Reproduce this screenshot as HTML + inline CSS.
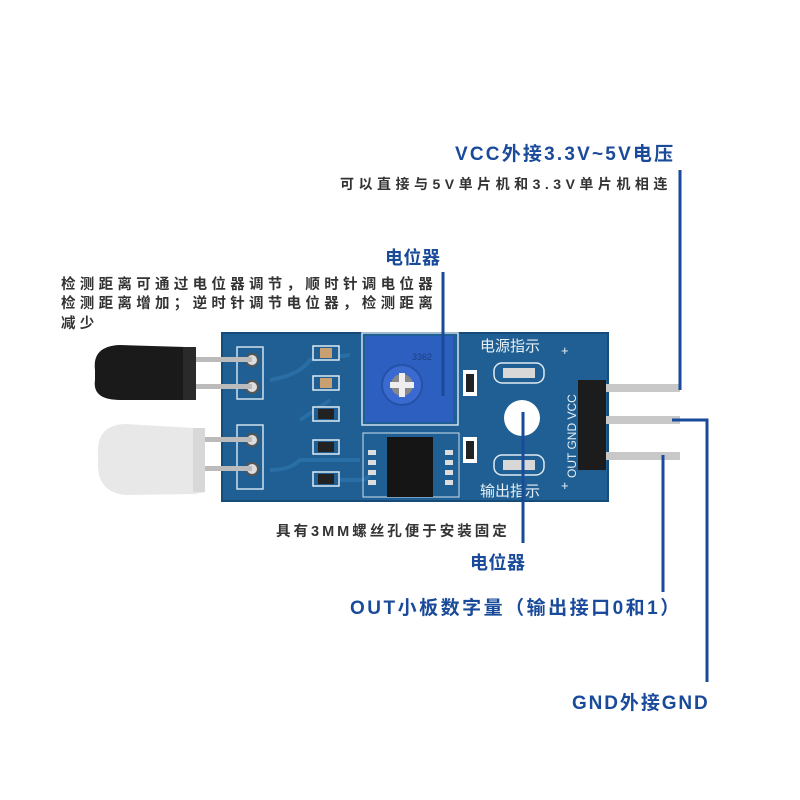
<!DOCTYPE html>
<html><head><meta charset="utf-8"><style>
html,body{margin:0;padding:0;background:#fff;}
svg{display:block}
.b{font-family:"Liberation Sans","Noto Sans CJK SC",sans-serif;font-weight:bold;fill:#1a4a9a;}
.d{font-family:"Liberation Sans","Noto Sans CJK SC",sans-serif;font-weight:bold;fill:#333;}
.s{fill:none;stroke:#1a4a9a;stroke-width:3}
</style></head><body>
<svg width="800" height="800" viewBox="0 0 800 800" xmlns="http://www.w3.org/2000/svg">
<rect x="222" y="333" width="386" height="168" fill="#1f5f93"/>
<rect x="222" y="333" width="386" height="168" fill="none" stroke="#174b78" stroke-width="2"/>
<path d="M270 380 Q300 375 310 360 L350 355 M270 470 Q290 470 300 460 L360 460 M300 420 L330 400 M340 480 L360 480 Q370 480 370 470" stroke="#2a6ea6" stroke-width="4" fill="none"/>
<rect x="237" y="347" width="26" height="52" fill="none" stroke="#cfe0ee" stroke-width="1.5"/>
<rect x="237" y="425" width="26" height="64" fill="none" stroke="#cfe0ee" stroke-width="1.5"/>
<circle cx="252" cy="360" r="6" fill="#ddd" stroke="#555" stroke-width="2"/>
<circle cx="252" cy="387" r="6" fill="#ddd" stroke="#555" stroke-width="2"/>
<circle cx="252" cy="440" r="6" fill="#ddd" stroke="#555" stroke-width="2"/>
<circle cx="252" cy="469" r="6" fill="#ddd" stroke="#555" stroke-width="2"/>
<path d="M95 370 Q92 346 120 345 L185 347 L196 349 L196 398 L185 400 L120 400 Q92 400 95 380 Z" fill="#1a1a1a"/>
<rect x="183" y="347" width="13" height="53" fill="#2a2a2a"/>
<rect x="196" y="357" width="56" height="5" fill="#bbb"/>
<rect x="196" y="384" width="56" height="5" fill="#bbb"/>
<path d="M98 455 Q96 425 125 424 L195 428 L205 430 L205 492 L195 494 L125 495 Q96 492 98 460 Z" fill="#e8e8e8"/>
<rect x="193" y="428" width="12" height="64" fill="#d8d8d8"/>
<rect x="205" y="437" width="47" height="5" fill="#bbb"/>
<rect x="205" y="466" width="47" height="5" fill="#bbb"/>
<g fill="#1f5f93" stroke="#dfeaf2" stroke-width="1.5">
<rect x="313" y="346" width="26" height="14"/><rect x="313" y="376" width="26" height="14"/>
<rect x="313" y="407" width="26" height="14"/><rect x="313" y="440" width="26" height="14"/>
<rect x="313" y="472" width="26" height="14"/>
</g>
<g fill="#c9a070"><rect x="320" y="348" width="12" height="10"/><rect x="320" y="378" width="12" height="10"/></g>
<g fill="#222"><rect x="318" y="409" width="16" height="10"/><rect x="318" y="442" width="16" height="10"/><rect x="318" y="474" width="16" height="10"/></g>
<rect x="362" y="333" width="96" height="92" fill="none" stroke="#cfe0ee" stroke-width="1.5"/>
<rect x="365" y="336" width="88" height="86" fill="#2d5fc0"/>
<circle cx="402" cy="385" r="20" fill="#3a6ad0" stroke="#2452a8" stroke-width="2"/>
<circle cx="402" cy="385" r="11" fill="#888"/>
<rect x="399" y="373" width="6" height="24" fill="#eee"/><rect x="390" y="382" width="24" height="6" fill="#eee"/>
<text x="412" y="360" font-family="Liberation Sans" font-size="9" fill="#1e3f80">3362</text>
<rect x="363" y="433" width="96" height="64" fill="none" stroke="#cfe0ee" stroke-width="1"/>
<rect x="387" y="437" width="46" height="60" fill="#151515"/>
<g fill="#ddd"><rect x="368" y="460" width="8" height="5"/><rect x="368" y="470" width="8" height="5"/><rect x="368" y="480" width="8" height="5"/><rect x="368" y="450" width="8" height="5"/>
<rect x="445" y="450" width="8" height="5"/><rect x="445" y="460" width="8" height="5"/><rect x="445" y="470" width="8" height="5"/><rect x="445" y="480" width="8" height="5"/></g>
<rect x="463" y="370" width="14" height="26" fill="#fff"/><rect x="466" y="374" width="8" height="18" fill="#222"/>
<rect x="463" y="437" width="14" height="26" fill="#fff"/><rect x="466" y="441" width="8" height="18" fill="#222"/>
<rect x="494" y="363" width="50" height="20" rx="8" fill="none" stroke="#dfeaf2" stroke-width="1.5"/>
<rect x="503" y="368" width="32" height="10" fill="#d8d8d8"/>
<rect x="494" y="455" width="50" height="20" rx="8" fill="none" stroke="#dfeaf2" stroke-width="1.5"/>
<rect x="503" y="460" width="32" height="10" fill="#d8d8d8"/>
<circle cx="522" cy="418" r="18" fill="#fff"/>
<text x="480" y="351" font-family="Liberation Sans,Noto Sans CJK SC" font-size="15" fill="#e8f0f6">电源指示</text>
<text x="480" y="496" font-family="Liberation Sans,Noto Sans CJK SC" font-size="15" fill="#e8f0f6">输出指示</text>
<text x="561" y="355" font-family="Liberation Sans" font-size="13" fill="#e8f0f6">+</text>
<text x="561" y="490" font-family="Liberation Sans" font-size="13" fill="#e8f0f6">+</text>
<text transform="translate(576,478) rotate(-90)" font-family="Liberation Sans" font-size="12" fill="#e8f0f6">OUT GND VCC</text>
<rect x="578" y="380" width="28" height="90" fill="#1c1c1c"/>
<rect x="606" y="384" width="74" height="8" fill="#c8c8c8"/>
<rect x="606" y="416" width="74" height="8" fill="#c8c8c8"/>
<rect x="606" y="452" width="74" height="8" fill="#c8c8c8"/>
<path class="s" d="M680 170 L680 390"/>
<path class="s" d="M672 420 L707 420 L707 682"/>
<path class="s" d="M663 455 L663 592"/>
<path class="s" d="M443 272 L443 396"/>
<path class="s" d="M523 412 L523 543"/>
<text class="b" x="455" y="160" font-size="19" letter-spacing="2.2">VCC外接3.3V~5V电压</text>
<text class="d" x="340" y="189" font-size="14" letter-spacing="4.5">可以直接与5V单片机和3.3V单片机相连</text>
<text class="b" x="385" y="264" font-size="18" letter-spacing="0.5">电位器</text>
<text class="d" x="61" y="289" font-size="14.5" letter-spacing="4.3">检测距离可通过电位器调节，顺时针调电位器</text>
<text class="d" x="61" y="308" font-size="14.5" letter-spacing="4.3">检测距离增加；逆时针调节电位器，检测距离</text>
<text class="d" x="61" y="328" font-size="14.5" letter-spacing="4.3">减少</text>
<text class="d" x="276" y="536" font-size="14.5" letter-spacing="3">具有3MM螺丝孔便于安装固定</text>
<text class="b" x="470" y="569" font-size="18" letter-spacing="0.5">电位器</text>
<text class="b" x="350" y="614" font-size="19" letter-spacing="2.5">OUT小板数字量（输出接口0和1）</text>
<text class="b" x="572" y="709" font-size="19" letter-spacing="1.9">GND外接GND</text>
</svg>
</body></html>
